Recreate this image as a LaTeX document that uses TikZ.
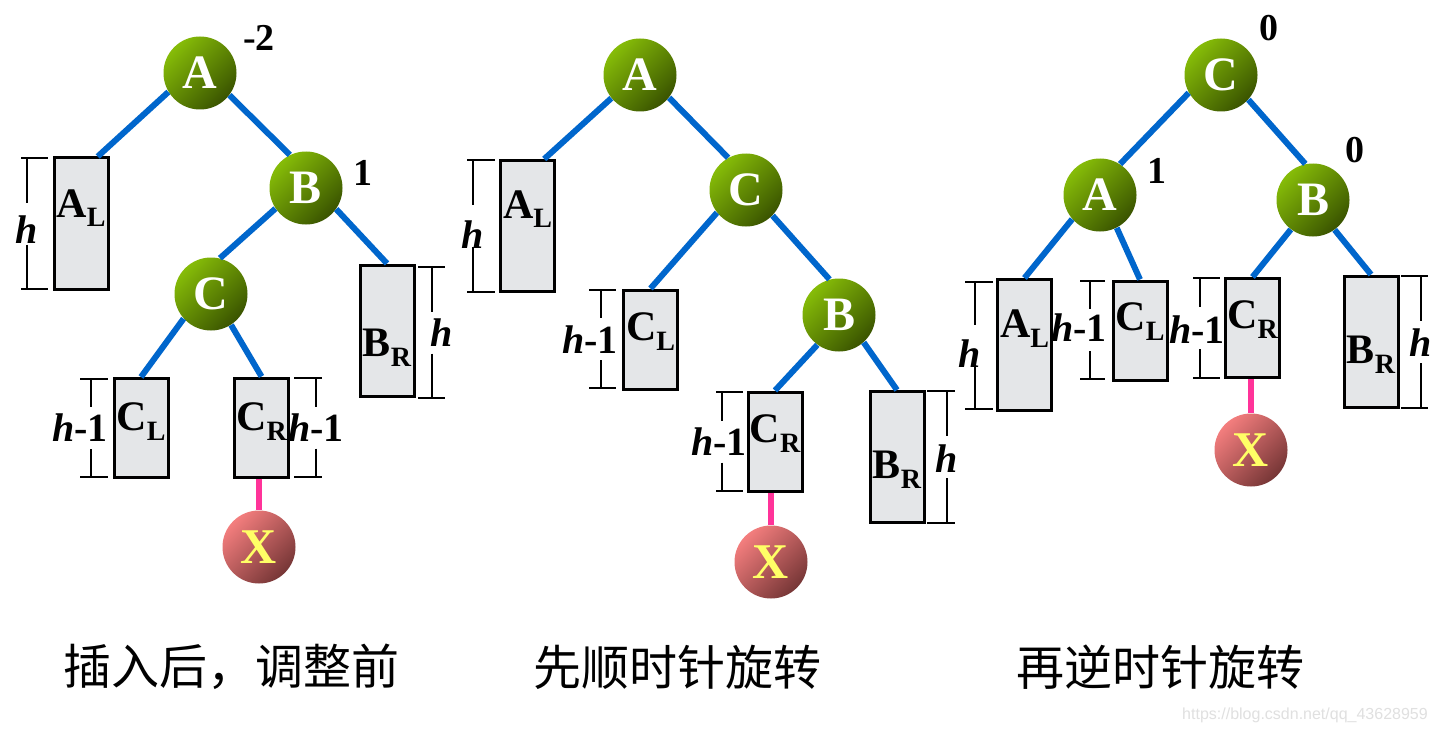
\documentclass[tikz,border=0pt]{standalone}
\usepackage{fontspec}
\setmainfont{Liberation Serif}
\newfontfamily\cjk{Noto Sans CJK SC}
\newfontfamily\wmfont{Liberation Sans}
\usetikzlibrary{calc}

\definecolor{ballhi}{HTML}{86BC08}
\definecolor{balllo}{HTML}{3A5400}
\definecolor{xhi}{HTML}{F47E7E}
\definecolor{xlo}{HTML}{763636}
\definecolor{xyellow}{HTML}{FFFF66}
\definecolor{linkblue}{HTML}{0066CC}
\definecolor{inspink}{HTML}{FF3399}
\definecolor{boxgray}{HTML}{E4E6E8}

\tikzset{
	ball/.style={circle, minimum size=36.5pt, inner sep=0pt, top color=ballhi, bottom color=balllo, shading angle=45, text=white, font=\fontsize{24}{24}\selectfont\bfseries},
	newball/.style={ball, top color=xhi, bottom color=xlo, shading angle=45, text=xyellow, font=\fontsize{25}{25}\selectfont\bfseries},
	tallbox/.style={draw, line width=1.5pt, fill=boxgray, inner sep=0pt, minimum width=27pt, minimum height=65.5pt},
	shortbox/.style={tallbox, minimum height=49.5pt},
	treename/.style={inner sep=0pt, anchor=base, font=\fontsize{21}{21}\selectfont\bfseries},
	link/.style={line width=3pt, color=linkblue},
	inslink/.style={line width=3pt, color=inspink},
	dimline/.style={line width=1pt},
	dimlabel/.style={inner sep=0pt, font=\fontsize{20}{20}\selectfont\bfseries},
	balance/.style={inner sep=0pt, font=\fontsize{19}{19}\selectfont\bfseries},
	caption/.style={font=\cjk\fontsize{24}{24}\selectfont},
}
\newcommand{\subidx}[1]{\raisebox{-5pt}{\fontsize{14}{14}\selectfont #1}}
\def\heightbar(#1:#2:#3)(#4:#5){\draw[dimline] (#4,#2) -- (#5,#2) (#4,#3) -- (#5,#3) (#1,#2) -- (#1,{(#2+#3)/2-21}) (#1,{(#2+#3)/2+21}) -- (#1,#3);}

\begin{document}
\begin{tikzpicture}[x=0.5pt, y=-0.5pt]
	%%%%% START %%%%%
	\fill[white] (0,0) rectangle (1435,733);
	\useasboundingbox (0,0) rectangle (1435,733);
	
	%%%%% before adjusting %%%%%
	\node[ball] (A1) at (200,73) {A};
	\node[ball] (B1) at (306,188) {B};
	\node[ball] (C1) at (211,294) {C};
	\node[newball] (X1) at (259,547) {X};
	\node[balance] (bA1) at (259,38) {-2};
	\node[balance] (bB1) at (363,173) {1};
	
	\node[tallbox] (AL1) at (81,223.5) {};
	\node[tallbox] (BR1) at (387,330.5) {};
	\node[shortbox] (CL1) at (141,428) {};
	\node[shortbox] (CR1) at (261.5,427.5) {};
	\node[treename] (AL1n) at (81,217) {A\subidx{L}};
	\node[treename] (BR1n) at (387,356) {B\subidx{R}};
	\node[treename] (CL1n) at (141,430) {C\subidx{L}};
	\node[treename] (CR1n) at (261.5,430) {C\subidx{R}};
	
	\draw[link] (A1.211) -- (AL1.76);
	\draw[link] (A1.323) -- (B1.116);
	\draw[link] (B1.214) -- (C1.76);
	\draw[link] (B1.325) -- (BR1.north);
	\draw[link] (C1.222) -- (CL1.north);
	\draw[link] (C1.303) -- (CR1.north);
	\draw[inslink] (X1 |- CR1.south) -- (X1);
	
	\heightbar(27:158:289)(21:48);
	\node[dimlabel] (hAL1) at (27,230) {\textit{h}};
	\heightbar(91:379:477)(80:108);
	\node[dimlabel] (hCL1) at (80,428) {\textit{h}-1};
	\heightbar(316:378:477)(294:322);
	\node[dimlabel] (hCR1) at (316,428) {\textit{h}-1};
	\heightbar(432:267:398)(418:445);
	\node[dimlabel] (hBR1) at (442,333) {\textit{h}};
	
	%%%%% clockwise %%%%%
	\node[ball] (A2) at (640,75) {A};
	\node[ball] (C2) at (746,190) {C};
	\node[ball] (B2) at (839,315) {B};
	\node[newball] (X2) at (771,562) {X};
	
	\node[tallbox] (AL2) at (527.5,226) {};
	\node[shortbox] (CL2) at (650.5,339.5) {};
	\node[shortbox] (CR2) at (775,441.5) {};
	\node[tallbox] (BR2) at (897,457) {};
	\node[treename] (AL2n) at (527.5,218) {A\subidx{L}};
	\node[treename] (CL2n) at (650.5,340) {C\subidx{L}};
	\node[treename] (CR2n) at (775,442) {C\subidx{R}};
	\node[treename] (BR2n) at (897,478) {B\subidx{R}};
	
	\draw[link] (A2.219) -- (AL2.76);
	\draw[link] (A2.322) -- (C2.119);
	\draw[link] (C2.218) -- (CL2.north);
	\draw[link] (C2.316) -- (B2.105);
	\draw[link] (B2.234) -- (CR2.north);
	\draw[link] (B2.312) -- (BR2.north);
	\draw[inslink] (X2 |- CR2.south) -- (X2);
	
	\heightbar(473:160:292)(467:495);
	\node[dimlabel] (hAL2) at (473,235) {\textit{h}};
	\heightbar(601:290:388)(589:616);
	\node[dimlabel] (hCL2) at (590,340) {\textit{h}-1};
	\heightbar(722:392:491)(716:743);
	\node[dimlabel] (hCR2) at (719,442) {\textit{h}-1};
	\heightbar(947:391:523)(927:955);
	\node[dimlabel] (hBR2) at (947,459) {\textit{h}};
	
	%%%%% counterclockwise %%%%%
	\node[ball] (C3) at (1221,75) {C};
	\node[ball] (A3) at (1100,195) {A};
	\node[ball] (B3) at (1313,200) {B};
	\node[newball] (X3) at (1251,450) {X};
	\node[balance] (bC3) at (1269,28) {0};
	\node[balance] (bA3) at (1157,171) {1};
	\node[balance] (bB3) at (1355,150) {0};
	
	\node[tallbox] (AL3) at (1024.5,345) {};
	\node[shortbox] (CL3) at (1140,330.5) {};
	\node[shortbox] (CR3) at (1252.5,328) {};
	\node[tallbox] (BR3) at (1371,341.5) {};
	\node[treename] (AL3n) at (1024.5,337) {A\subidx{L}};
	\node[treename] (CL3n) at (1140,330) {C\subidx{L}};
	\node[treename] (CR3n) at (1252.5,328) {C\subidx{R}};
	\node[treename] (BR3n) at (1371,363) {B\subidx{R}};
	
	\draw[link] (C3.209) -- (A3.57);
	\draw[link] (C3.318) -- (B3.102);
	\draw[link] (A3.221) -- (AL3.north);
	\draw[link] (A3.297) -- (CL3.north);
	\draw[link] (B3.233) -- (CR3.north);
	\draw[link] (B3.306) -- (BR3.north);
	\draw[inslink] (X3 |- CR3.south) -- (X3);
	
	\heightbar(975:282:409)(965:993);
	\node[dimlabel] (hAL3) at (970,354) {\textit{h}};
	\heightbar(1090:281:379)(1080:1105);
	\node[dimlabel] (hCL3) at (1079,328) {\textit{h}-1};
	\heightbar(1200:278:378)(1193:1220);
	\node[dimlabel] (hCR3) at (1197,330) {\textit{h}-1};
	\heightbar(1421:276:408)(1401:1428);
	\node[dimlabel] (hBR3) at (1421,343) {\textit{h}};
	
	%%%%% captions %%%%%
	\node[caption] (cap1) at (231,667) {插入后，调整前};
	\node[caption] (cap2) at (677,667) {先顺时针旋转};
	\node[caption] (cap3) at (1160,667) {再逆时针旋转};
	\node[font=\wmfont\fontsize{8}{8}\selectfont, text=black!12] (mark) at (1305,715) {https://blog.csdn.net/qq\_43628959};
	
	%%%%% END %%%%%
\end{tikzpicture}
\end{document}
